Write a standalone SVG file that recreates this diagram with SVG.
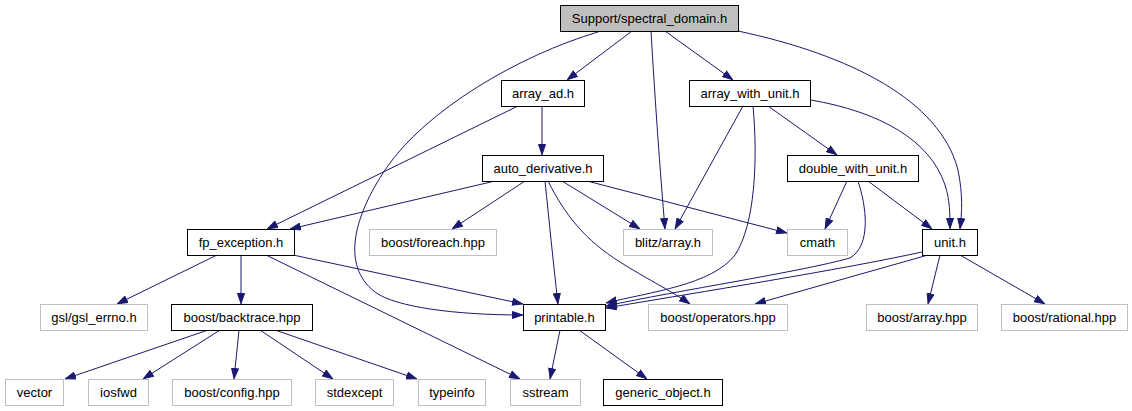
<svg xmlns="http://www.w3.org/2000/svg" width="1132" height="411" viewBox="0 0 1132 411">
<style>
.n rect{fill:#fff;stroke:#000;stroke-width:1}
.x rect{fill:#fff;stroke:#bfbfbf;stroke-width:1}
.r rect{fill:#bfbfbf;stroke:#000;stroke-width:1}
text{font-family:"Liberation Sans",Arial,sans-serif;font-size:13px;text-anchor:middle;fill:#000}
#edges path{fill:none;stroke:#191970;stroke-width:1;marker-end:url(#a)}
</style>
<defs>
<marker id="a" viewBox="0 0 11 8" refX="11" refY="4" markerWidth="11" markerHeight="8" markerUnits="userSpaceOnUse" orient="auto"><path d="M0.5,0.5 L10.5,4 L0.5,7.5 z" fill="#191970" stroke="#191970" stroke-width="1"/></marker>
</defs>
<rect width="1132" height="411" fill="#fff"/>
<g id="edges">
<path d="M632,31 L567,80"/>
<path d="M651,31 C655,100 660,170 665,229"/>
<path d="M665,31 L733,80"/>
<path d="M738,31 C850,55 940,100 958,170 C963,195 962,212 960,229"/>
<path d="M598,32 C520,55 425,110 385,170 C355,215 340,265 375,292 C395,307 455,315 523,315"/>
<path d="M518,106 L267,229"/>
<path d="M542,106 L542,155"/>
<path d="M743,106 L675,229"/>
<path d="M753,106 C758,160 755,225 735,255 C712,285 650,292 606,303"/>
<path d="M768,106 L837,155"/>
<path d="M811,100 C880,112 930,140 945,185 C950,200 950,215 950,229"/>
<path d="M495,181 L290,229"/>
<path d="M525,181 L452,229"/>
<path d="M562,181 L640,229"/>
<path d="M587,181 L787,233"/>
<path d="M545,181 C549,220 553,260 558,304"/>
<path d="M548,181 C565,215 585,240 620,262 C645,278 670,290 690,304"/>
<path d="M847,181 L825,229"/>
<path d="M868,181 L932,229"/>
<path d="M858,181 C866,205 872,245 850,258 C800,272 680,290 606,306"/>
<path d="M922,252 C840,270 700,292 606,308"/>
<path d="M928,255 L755,304"/>
<path d="M940,255 L928,304"/>
<path d="M960,255 L1045,304"/>
<path d="M217,255 L117,304"/>
<path d="M241,255 L241,304"/>
<path d="M293,255 L523,304"/>
<path d="M266,255 L520,379"/>
<path d="M208,330 L65,379"/>
<path d="M220,330 L143,379"/>
<path d="M239,330 L234,379"/>
<path d="M260,330 L333,379"/>
<path d="M275,330 L417,379"/>
<path d="M560,330 L550,379"/>
<path d="M579,330 L647,379"/>
</g>
<g id="spectral_domain" class="r"><rect x="560.5" y="5.5" width="178" height="26"/><text x="649.5" y="23">Support/spectral_domain.h</text></g>
<g id="array_ad" class="n"><rect x="501.5" y="80.5" width="83" height="26"/><text x="543" y="98">array_ad.h</text></g>
<g id="array_with_unit" class="n"><rect x="689.5" y="80.5" width="121" height="26"/><text x="750" y="98">array_with_unit.h</text></g>
<g id="auto_derivative" class="n"><rect x="482.5" y="155.5" width="121" height="26"/><text x="543" y="173">auto_derivative.h</text></g>
<g id="double_with_unit" class="n"><rect x="787.5" y="155.5" width="131" height="26"/><text x="853" y="173">double_with_unit.h</text></g>
<g id="fp_exception" class="n"><rect x="187.5" y="229.5" width="107" height="26"/><text x="241" y="247">fp_exception.h</text></g>
<g id="boost_foreach" class="x"><rect x="369.5" y="229.5" width="127" height="26"/><text x="433" y="247">boost/foreach.hpp</text></g>
<g id="blitz_array" class="x"><rect x="623.5" y="229.5" width="89" height="26"/><text x="668" y="247">blitz/array.h</text></g>
<g id="cmath" class="x"><rect x="787.5" y="229.5" width="60" height="26"/><text x="817.5" y="247">cmath</text></g>
<g id="unit" class="n"><rect x="922.5" y="229.5" width="55" height="26"/><text x="950" y="247">unit.h</text></g>
<g id="gsl_errno" class="x"><rect x="40.5" y="304.5" width="107" height="26"/><text x="94" y="322">gsl/gsl_errno.h</text></g>
<g id="boost_backtrace" class="n"><rect x="171.5" y="304.5" width="141" height="26"/><text x="242" y="322">boost/backtrace.hpp</text></g>
<g id="printable" class="n"><rect x="523.5" y="304.5" width="82" height="26"/><text x="564.5" y="322">printable.h</text></g>
<g id="boost_operators" class="x"><rect x="648.5" y="304.5" width="139" height="26"/><text x="718" y="322">boost/operators.hpp</text></g>
<g id="boost_array" class="x"><rect x="866.5" y="304.5" width="111" height="26"/><text x="922" y="322">boost/array.hpp</text></g>
<g id="boost_rational" class="x"><rect x="1001.5" y="304.5" width="126" height="26"/><text x="1064.5" y="322">boost/rational.hpp</text></g>
<g id="vector" class="x"><rect x="5.5" y="379.5" width="58" height="26"/><text x="34.5" y="397">vector</text></g>
<g id="iosfwd" class="x"><rect x="88.5" y="379.5" width="60" height="26"/><text x="118.5" y="397">iosfwd</text></g>
<g id="boost_config" class="x"><rect x="172.5" y="379.5" width="119" height="26"/><text x="232" y="397">boost/config.hpp</text></g>
<g id="stdexcept" class="x"><rect x="315.5" y="379.5" width="78" height="26"/><text x="354.5" y="397">stdexcept</text></g>
<g id="typeinfo" class="x"><rect x="418.5" y="379.5" width="67" height="26"/><text x="452" y="397">typeinfo</text></g>
<g id="sstream" class="x"><rect x="510.5" y="379.5" width="70" height="26"/><text x="545.5" y="397">sstream</text></g>
<g id="generic_object" class="n"><rect x="603.5" y="379.5" width="119" height="26"/><text x="663" y="397">generic_object.h</text></g>
</svg>
